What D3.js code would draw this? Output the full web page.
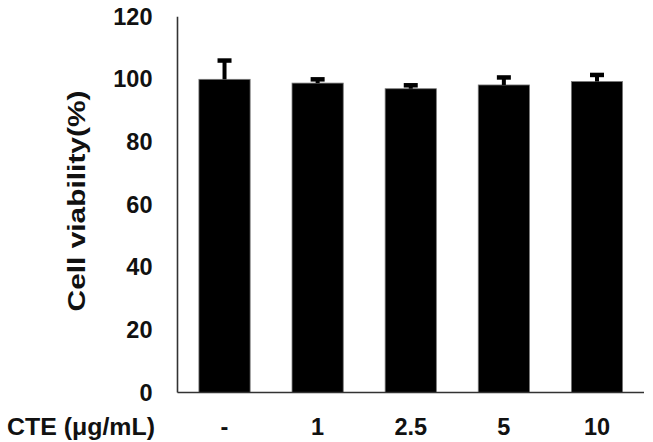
<!DOCTYPE html>
<html>
  <head>
    <script src="https://d3js.org/d3.v7.min.js"></script>
    <style>
      body { margin: 0; background: #fff; }
      text { font-family: Arial, "Liberation Sans", sans-serif; font-weight: bold; fill: #111; }
    </style>
  </head>
  <body>
    <div id="chart">
      <svg width="653" height="442"></svg>
    </div>

    <script>
      // data
      const categories = ['-', '1', '2.5', '5', '10'];
      const viability = [100, 98.8, 97.0, 98.2, 99.3];
      const errors = [6, 1.2, 1.1, 2.4, 2.1];
      const yTicks = [0, 20, 40, 60, 80, 100, 120];

      const svg = d3.select('#chart').select('svg');

      const x = d3.scaleBand()
        .domain(categories)
        .range([177.5, 644])
        .paddingInner(0.45)
        .paddingOuter(0.23);

      const y = d3.scaleLinear()
        .domain([0, 120])
        .range([392.5, 16.7]);

      // y tick labels (no tick marks in the original)
      const yAxis = svg.append('g')
        .attr('transform', 'translate(177.5,0)')
        .call(d3.axisLeft(y).tickValues(yTicks).tickSize(0).tickPadding(25));
      yAxis.select('.domain').remove();
      yAxis.selectAll('text')
        .style('font-size', '23.5px')
        .style('font-family', 'Arial, "Liberation Sans", sans-serif')
        .style('font-weight', 'bold')
        .attr('fill', '#111');

      // bars
      svg.selectAll('rect.bar')
        .data(viability)
        .enter()
        .append('rect')
        .attr('class', 'bar')
        .attr('x', (d, i) => x(categories[i]))
        .attr('y', d => y(d))
        .attr('width', x.bandwidth())
        .attr('height', d => y(0) - y(d))
        .attr('fill', '#000')
        .attr('stroke', '#777')
        .attr('stroke-width', 0.8);

      // error bars (upper only)
      const err = svg.append('g');
      viability.forEach((v, i) => {
        const cx = x(categories[i]) + x.bandwidth() / 2;
        err.append('line')
          .attr('x1', cx).attr('x2', cx)
          .attr('y1', y(v)).attr('y2', y(v + errors[i]))
          .attr('stroke', '#000').attr('stroke-width', 4);
        err.append('line')
          .attr('x1', cx - 7).attr('x2', cx + 7)
          .attr('y1', y(v + errors[i])).attr('y2', y(v + errors[i]))
          .attr('stroke', '#000').attr('stroke-width', 4.5);
      });

      // axis lines
      svg.append('line')
        .attr('x1', 177.5).attr('x2', 177.5)
        .attr('y1', y(120)).attr('y2', y(0))
        .attr('stroke', '#333').attr('stroke-width', 1.6);
      svg.append('line')
        .attr('x1', 177.5).attr('x2', 644)
        .attr('y1', y(0)).attr('y2', y(0))
        .attr('stroke', '#333').attr('stroke-width', 1.6);

      // category labels
      svg.selectAll('text.cat')
        .data(categories)
        .enter()
        .append('text')
        .attr('class', 'cat')
        .attr('x', d => x(d) + x.bandwidth() / 2)
        .attr('y', 435)
        .attr('text-anchor', 'middle')
        .style('font-size', '23.5px')
        .text(d => d);

      svg.append('text')
        .attr('x', 7)
        .attr('y', 435)
        .style('font-size', '24px')
        .attr('textLength', 148)
        .attr('lengthAdjust', 'spacingAndGlyphs')
        .text('CTE (μg/mL)');

      // y title, stretched along its length like the original
      svg.append('text')
        .attr('transform', 'translate(85,201) rotate(-90) scale(1.3,1)')
        .attr('text-anchor', 'middle')
        .style('font-size', '23px')
        .text('Cell viability(%)');
    </script>
  </body>
</html>
